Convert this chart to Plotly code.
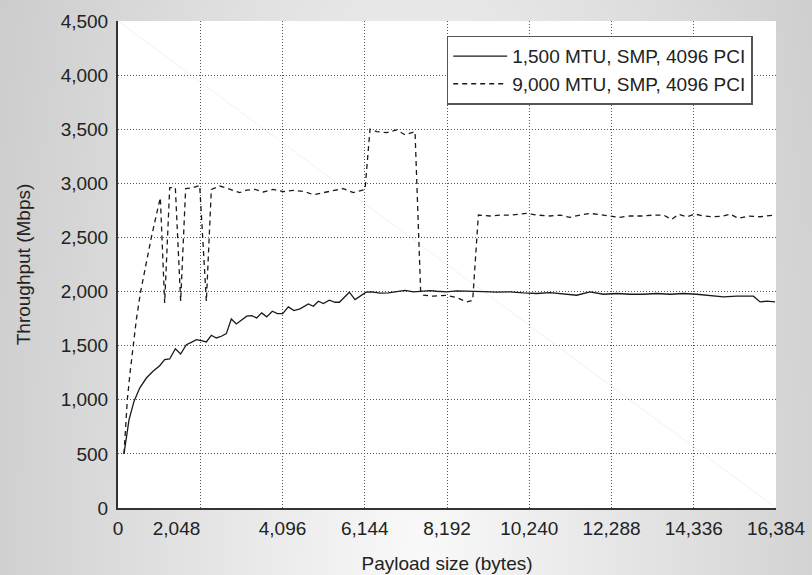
import math, zlib, struct, base64
import plotly.graph_objects as go

# ---------------- data ----------------
x_ticks = [0, 2048, 4096, 6144, 8192, 10240, 12288, 14336, 16384]
x_tick_labels = ["0", "2,048", "4,096", "6,144", "8,192", "10,240", "12,288", "14,336", "16,384"]
y_ticks = [0, 500, 1000, 1500, 2000, 2500, 3000, 3500, 4000, 4500]
y_tick_labels = ["0", "500", "1,000", "1,500", "2,000", "2,500", "3,000", "3,500", "4,000", "4,500"]

series_names = ["1,500 MTU, SMP, 4096 PCI", "9,000 MTU, SMP, 4096 PCI"]

x_1500 = [149, 274, 398, 540, 706, 872, 1038, 1162, 1287, 1428, 1560, 1702, 1826, 1951,
          2075, 2200, 2324, 2449, 2573, 2698, 2822, 2947, 3071, 3204, 3328, 3453, 3578,
          3702, 3843, 3968, 4100, 4241, 4382, 4532, 4740, 4864, 4989, 5113, 5263, 5404,
          5512, 5761, 5902, 6043, 6176, 6317, 6524, 6732, 6939, 7147, 7354, 7562, 7769,
          7935, 8184, 8433, 8682, 8848, 9098, 9430, 9762, 10094, 10426, 10758, 11090,
          11422, 11754, 12086, 12418, 12750, 13082, 13414, 13746, 14078, 14410, 14742,
          15075, 15407, 15822, 15988, 16154, 16361]
y_1500 = [500, 815, 985, 1108, 1201, 1263, 1315, 1371, 1377, 1472, 1423, 1509, 1531, 1556,
          1547, 1534, 1596, 1571, 1587, 1611, 1747, 1701, 1735, 1772, 1778, 1756, 1803,
          1766, 1818, 1796, 1796, 1858, 1824, 1840, 1886, 1864, 1911, 1889, 1920, 1901,
          1901, 1994, 1926, 1957, 1994, 1997, 1985, 1988, 2000, 2010, 1997, 2003, 2009,
          2003, 1997, 2006, 2006, 2006, 2000, 1994, 1997, 1988, 1982, 1991, 1975,
          1966, 1997, 1975, 1982, 1975, 1975, 1982, 1975, 1982, 1975, 1966,
          1951, 1957, 1957, 1904, 1911, 1904]

x_9000 = [149, 190, 232, 300, 373, 460, 564, 690, 830, 950, 1054, 1162, 1287, 1428, 1560, 1685,
          1868, 2034, 2200, 2324, 2532, 2739, 3030, 3204, 3411, 3619, 3868, 4117, 4366,
          4656, 4864, 5113, 5404, 5611, 5860, 6151, 6275, 6441, 6690, 6939, 7147, 7396,
          7536, 7603, 7852, 8184, 8433, 8682, 8832, 8973, 9264, 9513, 9762, 10177, 10426,
          10758, 11007, 11256, 11505, 11754, 12086, 12460, 12750, 13082, 13331, 13580,
          13788, 13954, 14161, 14369, 14577, 14826, 15075, 15241, 15448, 15697, 15988, 16361]
y_9000 = [500, 750, 1000, 1250, 1500, 1750, 2000, 2250, 2500, 2700, 2867, 1895, 2960, 2960, 1911, 2951,
          2960, 2981, 1911, 2944, 2975, 2951, 2914, 2938, 2944, 2920, 2944, 2923, 2935,
          2923, 2895, 2914, 2938, 2951, 2914, 2944, 3500, 3478, 3469, 3494, 3448, 3478,
          2000, 1966, 1957, 1966, 1944, 1904, 1920, 2707, 2698, 2707, 2707, 2722, 2707,
          2698, 2707, 2685, 2707, 2722, 2707, 2685, 2698, 2698, 2707, 2707,
          2667, 2713, 2691, 2716, 2698, 2691, 2698, 2716, 2676, 2698, 2691, 2707]

# ---------------- styling ----------------
W, H = 812, 575
ML, MR, MT, MB = 118, 36, 21, 67
PW, PH = W - ML - MR, H - MT - MB
FONT = "Liberation Sans, Arial, Helvetica, sans-serif"
FS = 19


def gradient_png(w, h):
    rows = bytearray()
    for j in range(h):
        rows.append(0)
        for i in range(w):
            px = i / (w - 1) * W
            py = j / (h - 1) * H
            d = math.hypot((px - 420) / 430.0, (py - 580) / 1300.0)
            g = int(max(0, min(255, 250 - 42 * d)))
            rows.append(g)
    raw = zlib.compress(bytes(rows), 9)

    def chunk(t, data):
        return (struct.pack(">I", len(data)) + t + data +
                struct.pack(">I", zlib.crc32(t + data) & 0xffffffff))

    png = (b"\x89PNG\r\n\x1a\n" +
           chunk(b"IHDR", struct.pack(">IIBBBBB", w, h, 8, 0, 0, 0, 0)) +
           chunk(b"IDAT", raw) + chunk(b"IEND", b""))
    return "data:image/png;base64," + base64.b64encode(png).decode()


fig = go.Figure()
fig.add_trace(go.Scatter(x=x_1500, y=y_1500, mode="lines", name=series_names[0],
                         line=dict(color="#1a1a1a", width=1.3)))
fig.add_trace(go.Scatter(x=x_9000, y=y_9000, mode="lines", name=series_names[1],
                         line=dict(color="#1a1a1a", width=1.3, dash="5px,4px")))

tick_text_x = list(x_tick_labels)
tick_text_x[1] = x_tick_labels[1] + "\u00a0" * 9

fig.update_layout(
    width=W, height=H,
    margin=dict(l=ML, r=MR, t=MT, b=MB, pad=0, autoexpand=False),
    paper_bgcolor="#dedede",
    plot_bgcolor="white",
    font=dict(family=FONT, size=FS, color="#222222"),
    showlegend=True,
    legend=dict(x=(752.7 - ML) / PW, y=(508 - 35.7) / PH, xanchor="right", yanchor="top",
                bgcolor="white", bordercolor="#555555", borderwidth=1.5,
                font=dict(size=FS, color="#222222"), itemwidth=54,
                tracegroupgap=0),
    images=[dict(source=gradient_png(203, 144), xref="paper", yref="paper",
                 x=-ML / PW, y=1 + MT / PH, sizex=W / PW, sizey=H / PH,
                 xanchor="left", yanchor="top", sizing="stretch", layer="below")],
    shapes=[
        dict(type="rect", xref="paper", yref="paper", x0=0, y0=0, x1=1, y1=1,
             fillcolor="white", line=dict(width=0), layer="below"),
        dict(type="line", xref="paper", yref="paper", x0=0, y0=1, x1=1, y1=0,
             line=dict(color="#f1f1f1", width=1), layer="below"),
    ],
    xaxis=dict(range=[0, 16384], tickmode="array", tickvals=x_ticks, ticktext=tick_text_x,
               showgrid=True, gridcolor="#555555", griddash="1px,2px", gridwidth=1,
               showline=True, linecolor="#333333", linewidth=2, zeroline=False,
               ticks="", ticklabelstandoff=2, automargin=False,
               title=dict(text="Payload size (bytes)", standoff=19,
                          font=dict(size=FS, color="#222222"))),
    yaxis=dict(range=[0, 4500], tickmode="array", tickvals=y_ticks, ticktext=y_tick_labels,
               showgrid=True, gridcolor="#555555", griddash="1px,2px", gridwidth=1,
               showline=True, linecolor="#333333", linewidth=2, zeroline=False,
               ticks="", ticklabelstandoff=4, automargin=False,
               title=dict(text="Throughput (Mbps)", standoff=25,
                          font=dict(size=FS, color="#222222"))),
)

fig.write_html("out.html", config={"displayModeBar": False},
               post_script="document.body.style.margin='0';document.body.style.overflow='hidden';")
